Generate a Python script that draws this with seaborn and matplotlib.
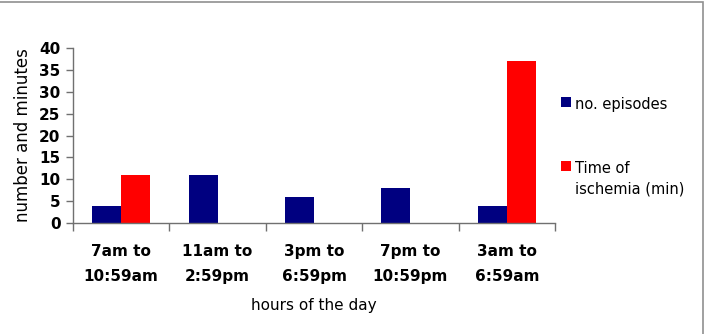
import numpy as np
import matplotlib
matplotlib.use("Agg")
import matplotlib.pyplot as plt
import seaborn as sns
import pandas as pd
from matplotlib.patches import Rectangle

# data
periods = ["7am to\n10:59am", "11am to\n2:59pm", "3pm to\n6:59pm", "7pm to\n10:59pm", "3am to\n6:59am"]
episodes = [4, 11, 6, 8, 4]
ischemia_min = [11, 0, 0, 0, 37]
series_names = ["no. episodes", "Time of\nischemia (min)"]
yticks = [0, 5, 10, 15, 20, 25, 30, 35, 40]

df = pd.DataFrame({
    "period": periods * 2,
    "value": episodes + ischemia_min,
    "series": [series_names[0]] * len(periods) + [series_names[1]] * len(periods),
})

sns.set_style("white")
plt.rcParams["font.family"] = ["DejaVu Sans"]
plt.rcParams["text.color"] = "black"
plt.rcParams["axes.labelcolor"] = "black"

fig = plt.figure(figsize=(7.11, 3.34), dpi=100)
ax = fig.add_axes([0.1027, 0.3314, 0.6779, 0.5256])

sns.barplot(data=df, x="period", y="value", hue="series", order=periods,
            hue_order=series_names, palette=["#000080", "#ff0000"],
            width=0.6, saturation=1, linewidth=0, ax=ax, legend=True)

ax.set_xlim(-0.5, len(periods) - 0.5)
ax.set_ylim(0, 40)
ax.set_yticks(yticks)
ax.set_yticklabels([str(t) for t in yticks], fontsize=11, fontweight="bold")
ax.tick_params(axis="y", direction="out", length=5, width=1, color="#707070",
               labelcolor="black", pad=4, left=True)

# category labels centered, tick marks at category boundaries
ax.set_xticks(range(len(periods)))
ax.set_xticklabels(periods, fontsize=11, fontweight="bold", linespacing=1.85)
ax.tick_params(axis="x", which="major", length=0, pad=15, labelcolor="black")
ax.set_xticks(np.arange(-0.5, len(periods), 1.0), minor=True)
ax.tick_params(axis="x", which="minor", direction="out", length=6, width=1, color="#707070", bottom=True)

for side in ["top", "right"]:
    ax.spines[side].set_visible(False)
for side in ["left", "bottom"]:
    ax.spines[side].set_color("#707070")
    ax.spines[side].set_linewidth(1)

ax.set_xlabel("hours of the day", fontsize=11, labelpad=10)
ax.set_ylabel("number and minutes", fontsize=12, labelpad=5)

handles, labels = ax.get_legend_handles_labels()
leg = ax.legend(handles, labels, loc="upper left", bbox_to_anchor=(555 / 711, 1 - 91 / 334),
                bbox_transform=fig.transFigure, frameon=False, fontsize=10.5,
                handlelength=0.7, handleheight=0.7, handletextpad=0.3, labelspacing=3.35,
                borderaxespad=0)
# marker next to the first line of a two-line label, as in the original
for col in leg._legend_handle_box.get_children():
    for item in col.get_children():
        item.align = "top"
for txt in leg.get_texts():
    txt.set_linespacing(1.45)

# outer frame of the picture
fig.patches.append(Rectangle((-0.01, -0.05), 703 / 711 + 0.01, 1.0 - 2 / 334 + 0.05,
                             transform=fig.transFigure, fill=False,
                             edgecolor="#909090", linewidth=1.2))

fig.savefig("out.png", dpi=100)
